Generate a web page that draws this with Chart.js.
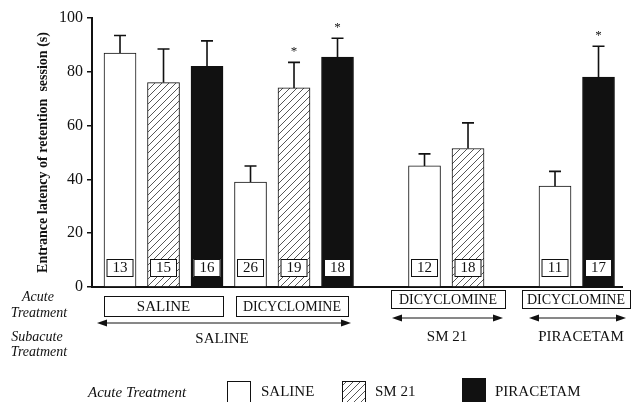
<!DOCTYPE html>
<html>
<head>
<meta charset="utf-8">
<title>Entrance latency of retention session</title>
<style>
  html, body { margin: 0; padding: 0; background: #fff; }
  #wrap { width: 634px; height: 402px; }
</style>
<script src="https://cdn.jsdelivr.net/npm/chart.js@4.4.1/dist/chart.umd.min.js"></script>
</head>
<body>
<div id="wrap"><canvas id="c" width="634" height="402"></canvas></div>
<script>
// Y axis ticks
const yTicks = [0, 20, 40, 60, 80, 100];

// Bar slots along x; slots 6 and 9 are left empty to separate the subacute groups
const salineSlots    = [0, 3, 7, 10];
const sm21Slots      = [1, 4, 8];
const piracetamSlots = [2, 5, 11];

// Mean entrance latency (s) per acute treatment
const salineMeans    = [87, 39, 45, 37.5];
const sm21Means      = [76, 74, 51.5];
const piracetamMeans = [82, 85.5, 78];

// S.E.M. (upper error bars)
const salineSem    = [6.5, 6, 4.5, 5.5];
const sm21Sem      = [12.5, 9.5, 9.5];
const piracetamSem = [9.5, 7, 11.5];

// Number of animals per group
const salineN    = [13, 26, 12, 11];
const sm21N      = [15, 19, 18];
const piracetamN = [16, 18, 17];

// Significance markers
const salineSig    = [false, false, false, false];
const sm21Sig      = [false, true, false];
const piracetamSig = [false, true, true];

// Treatment labels under the axis
const acuteLabels    = ['SALINE', 'DICYCLOMINE', 'DICYCLOMINE', 'DICYCLOMINE'];
const subacuteLabels = ['SALINE', 'SM 21', 'PIRACETAM'];
const legendLabels   = ['SALINE', 'SM 21', 'PIRACETAM'];

const SERIF = '"Liberation Serif", "DejaVu Serif", serif';
const INK = '#111';

const canvas = document.getElementById('c');
const ctx = canvas.getContext('2d');

function makeHatch() {
  const s = 7;
  const c = document.createElement('canvas');
  c.width = s; c.height = s;
  const g = c.getContext('2d');
  g.fillStyle = '#fff';
  g.fillRect(0, 0, s, s);
  g.strokeStyle = '#444';
  g.lineWidth = 0.9;
  g.beginPath();
  g.moveTo(0, s); g.lineTo(s, 0);
  g.moveTo(-1, 1); g.lineTo(1, -1);
  g.moveTo(s - 1, s + 1); g.lineTo(s + 1, s - 1);
  g.stroke();
  return ctx.createPattern(c, 'repeat');
}
const hatch = makeHatch();

function pts(slots, vals) {
  return slots.map((x, i) => ({ x: x, y: vals[i] }));
}

const extras = [
  { sem: salineSem, n: salineN, sig: salineSig },
  { sem: sm21Sem, n: sm21N, sig: sm21Sig },
  { sem: piracetamSem, n: piracetamN, sig: piracetamSig }
];

function text(c, s, x, y, font, align) {
  c.font = font;
  c.textAlign = align || 'center';
  c.textBaseline = 'middle';
  c.fillStyle = INK;
  c.fillText(s, x, y);
}

function arrow(c, x1, x2, y) {
  const L = 10, H = 3.5;
  c.strokeStyle = INK;
  c.fillStyle = INK;
  c.lineWidth = 1;
  c.beginPath();
  c.moveTo(x1 + L - 2, y); c.lineTo(x2 - L + 2, y);
  c.stroke();
  c.beginPath();
  c.moveTo(x1, y); c.lineTo(x1 + L, y - H); c.lineTo(x1 + L, y + H); c.closePath();
  c.fill();
  c.beginPath();
  c.moveTo(x2, y); c.lineTo(x2 - L, y - H); c.lineTo(x2 - L, y + H); c.closePath();
  c.fill();
}

const decorations = {
  id: 'decorations',
  afterDatasetsDraw(chart) {
    const c = chart.ctx;
    const ys = chart.scales.y;
    c.save();
    chart.data.datasets.forEach((ds, di) => {
      const meta = chart.getDatasetMeta(di);
      const ex = extras[di];
      meta.data.forEach((el, i) => {
        const v = ds.data[i].y;
        const top = ys.getPixelForValue(v + ex.sem[i]);
        // error bar
        c.strokeStyle = INK;
        c.lineWidth = 1.6;
        c.beginPath();
        c.moveTo(el.x, el.y);
        c.lineTo(el.x, top);
        c.moveTo(el.x - 6, top);
        c.lineTo(el.x + 6, top);
        c.stroke();
        // significance
        if (ex.sig[i]) {
          c.font = '13px ' + SERIF;
          c.textAlign = 'center';
          c.textBaseline = 'alphabetic';
          c.fillStyle = INK;
          c.fillText('*', el.x, top - 7);
        }
        // group size box
        const bw = 27, bh = 18, by = 259;
        c.fillStyle = '#fff';
        c.fillRect(el.x - bw / 2, by, bw, bh);
        c.lineWidth = 1;
        c.strokeStyle = INK;
        c.strokeRect(el.x - bw / 2 + 0.5, by + 0.5, bw - 1, bh - 1);
        text(c, String(ex.n[i]), el.x, by + bh / 2 + 0.5, '15px ' + SERIF);
      });
    });
    c.restore();
  },
  afterDraw(chart) {
    const c = chart.ctx;
    c.save();
    // acute treatment boxes
    const boxes = [
      [104, 296, 119, 20, 15],
      [236, 296, 112, 20, 14],
      [391, 290, 114, 18, 14],
      [522, 290, 108, 18, 14]
    ];
    boxes.forEach((b, i) => {
      c.lineWidth = 1;
      c.strokeStyle = INK;
      c.strokeRect(b[0] + 0.5, b[1] + 0.5, b[2], b[3]);
      text(c, acuteLabels[i], b[0] + b[2] / 2, b[1] + b[3] / 2 + 1, b[4] + 'px ' + SERIF);
    });
    // subacute treatment spans
    arrow(c, 97, 351, 323);
    arrow(c, 392, 503, 318);
    arrow(c, 529, 626, 318);
    text(c, subacuteLabels[0], 222, 339, '15px ' + SERIF);
    text(c, subacuteLabels[1], 447, 337, '15px ' + SERIF);
    text(c, subacuteLabels[2], 581, 337, '15px ' + SERIF);
    // row captions
    const it = 'italic 14px ' + SERIF;
    text(c, 'Acute', 38, 297, it);
    text(c, 'Treatment', 39, 313, it);
    text(c, 'Subacute', 37, 337, it);
    text(c, 'Treatment', 39, 352, it);
    // legend
    text(c, 'Acute Treatment', 88, 393, 'italic 15px ' + SERIF, 'left');
    const sw = [[227, 381, 23, 26], [342, 381, 23, 26], [462, 378, 23, 30]];
    const lx = [261, 375, 495];
    chart.data.datasets.forEach((ds, i) => {
      const s = sw[i];
      c.fillStyle = ds.backgroundColor;
      c.fillRect(s[0], s[1], s[2], s[3]);
      c.lineWidth = 1;
      c.strokeStyle = INK;
      c.strokeRect(s[0] + 0.5, s[1] + 0.5, s[2], s[3]);
      text(c, legendLabels[i], lx[i], 392, '15px ' + SERIF, 'left');
    });
    c.restore();
  }
};

const barCommon = { borderColor: INK, borderWidth: 1, grouped: false, barThickness: 32 };

new Chart(ctx, {
  type: 'bar',
  data: {
    datasets: [
      Object.assign({ label: 'SALINE', data: pts(salineSlots, salineMeans), backgroundColor: '#fff' }, barCommon),
      Object.assign({ label: 'SM 21', data: pts(sm21Slots, sm21Means), backgroundColor: hatch }, barCommon),
      Object.assign({ label: 'PIRACETAM', data: pts(piracetamSlots, piracetamMeans), backgroundColor: INK }, barCommon)
    ]
  },
  options: {
    responsive: false,
    animation: false,
    layout: { padding: { top: 18, right: 12, bottom: 115, left: 0 } },
    plugins: { legend: { display: false }, tooltip: { enabled: false } },
    scales: {
      x: {
        type: 'linear',
        min: -0.644,
        max: 11.54,
        offset: false,
        grid: { display: false },
        ticks: { display: false },
        border: { display: true, width: 2, color: INK },
        afterFit(s) { s.height = 0; }
      },
      y: {
        min: 0,
        max: 100,
        afterBuildTicks(s) { s.ticks = yTicks.map(v => ({ value: v })); },
        grid: { display: true, drawOnChartArea: false, drawTicks: true, tickLength: 5, color: INK, lineWidth: 1.5 },
        border: { display: true, width: 2, color: INK },
        ticks: { font: { family: SERIF, size: 16 }, color: INK, padding: 4 },
        title: {
          display: true,
          text: 'Entrance latency of retention  session (s)',
          font: { family: SERIF, size: 14, weight: 'bold' },
          color: INK,
          padding: { top: 35, bottom: 0 }
        },
        afterFit(s) { s.width = 92; }
      }
    }
  },
  plugins: [decorations]
});
</script>
</body>
</html>
